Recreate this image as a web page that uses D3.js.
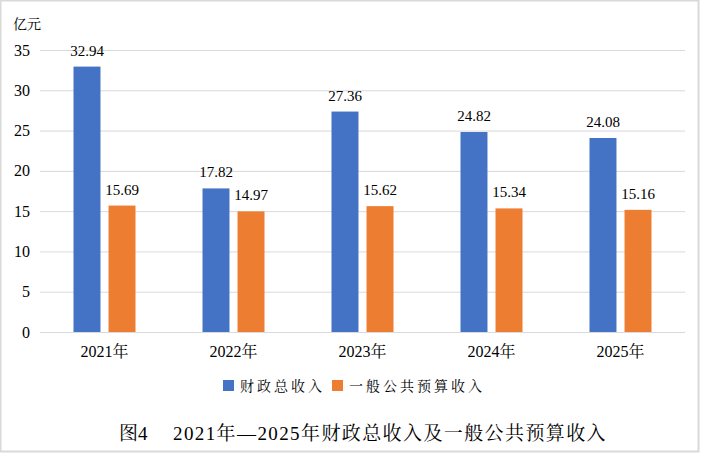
<!DOCTYPE html>
<html>
<head>
<meta charset="utf-8">
<script src="https://cdn.jsdelivr.net/npm/d3@7"></script>
<style>
  body { margin: 0; background: #fff; }
  text { font-family: "Liberation Serif", "Noto Serif CJK SC", "Noto Sans CJK SC", serif; fill: #000; }
</style>
</head>
<body>
<script>
// 数据
var years = ['2021年', '2022年', '2023年', '2024年', '2025年'];
var seriesNames = ['财政总收入', '一般公共预算收入'];
var totalIncome = [32.94, 17.82, 27.36, 24.82, 24.08];
var budgetIncome = [15.69, 14.97, 15.62, 15.34, 15.16];
var yTicks = [0, 5, 10, 15, 20, 25, 30, 35];
var colors = ['#4472C4', '#ED7D31'];

var W = 702, H = 454;
var plotLeft = 40, plotRight = 685, plotTop = 50, plotBottom = 332;

var svg = d3.select('body')
  .append('svg')
    .attr('width', W)
    .attr('height', H);

// 外框
svg.append('rect')
  .attr('x', 0.5).attr('y', 0.5)
  .attr('width', W - 4).attr('height', H - 3)
  .attr('fill', '#fff')
  .attr('stroke', '#d9d9d9')
  .attr('stroke-width', 2);

// 比例尺
var x0 = d3.scaleBand()
  .domain(years)
  .range([plotLeft, plotRight]);

var x1 = d3.scaleBand()
  .domain(seriesNames)
  .range([-31, 31])
  .paddingInner(0.23);

var y = d3.scaleLinear()
  .domain([0, 35])
  .range([plotBottom, plotTop]);

// 网格线 + Y轴
var yAxis = d3.axisLeft(y)
  .tickValues(yTicks)
  .tickSize(-(plotRight - plotLeft))
  .tickPadding(10);

var gy = svg.append('g')
  .attr('transform', 'translate(' + plotLeft + ',0)')
  .call(yAxis);
gy.select('.domain').remove();
gy.selectAll('.tick line').attr('stroke', '#d9d9d9');
gy.selectAll('.tick text')
  .attr('font-size', 16)
  .attr('font-family', '"Liberation Serif", serif');

// X轴标签
var xAxis = d3.axisBottom(x0).tickSize(0).tickPadding(14);
var gx = svg.append('g')
  .attr('transform', 'translate(0,' + plotBottom + ')')
  .call(xAxis);
gx.select('.domain').remove();
gx.selectAll('.tick text')
  .attr('font-size', 16)
  .attr('font-family', '"Liberation Serif", "Noto Sans CJK SC", serif');

// 单位
svg.append('text')
  .attr('x', 13).attr('y', 29)
  .attr('font-size', 14)
  .attr('fill', '#333')
  .text('亿元');

// 柱子
var rows = years.map(function(d, i) {
  return { year: d, values: [totalIncome[i], budgetIncome[i]] };
});

var groups = svg.selectAll('.year')
  .data(rows)
  .enter().append('g')
    .attr('class', 'year')
    .attr('transform', function(d) { return 'translate(' + (x0(d.year) + x0.bandwidth() / 2) + ',0)'; });

var bars = groups.selectAll('.bar')
  .data(function(d) {
    return d.values.map(function(v, j) { return { name: seriesNames[j], value: v, idx: j }; });
  })
  .enter();

bars.append('rect')
  .attr('x', function(d) { return x1(d.name); })
  .attr('y', function(d) { return y(d.value); })
  .attr('width', x1.bandwidth())
  .attr('height', function(d) { return plotBottom - y(d.value); })
  .attr('fill', function(d) { return colors[d.idx]; });

bars.append('text')
  .attr('x', function(d) { return x1(d.name) + x1.bandwidth() / 2; })
  .attr('y', function(d) { return y(d.value) - 11; })
  .attr('text-anchor', 'middle')
  .attr('font-size', 15)
  .text(function(d) { return d.value.toFixed(2); });

// 图例
var legendX = [223, 332];
var legend = svg.selectAll('.legend')
  .data(seriesNames)
  .enter().append('g')
    .attr('class', 'legend')
    .attr('transform', function(d, i) { return 'translate(' + legendX[i] + ',380)'; });

legend.append('rect')
  .attr('width', 11).attr('height', 11)
  .attr('fill', function(d, i) { return colors[i]; });

legend.append('text')
  .attr('x', 17).attr('y', 11)
  .attr('font-size', 14)
  .attr('letter-spacing', 3)
  .attr('fill', '#333')
  .text(function(d) { return d; });

// 标题
svg.append('text')
  .attr('x', 119).attr('y', 440)
  .attr('font-size', 19)
  .text('图4');

svg.append('text')
  .attr('x', 173).attr('y', 440)
  .attr('font-size', 19)
  .attr('letter-spacing', 1.4)
  .text('2021年—2025年财政总收入及一般公共预算收入');
</script>
</body>
</html>
